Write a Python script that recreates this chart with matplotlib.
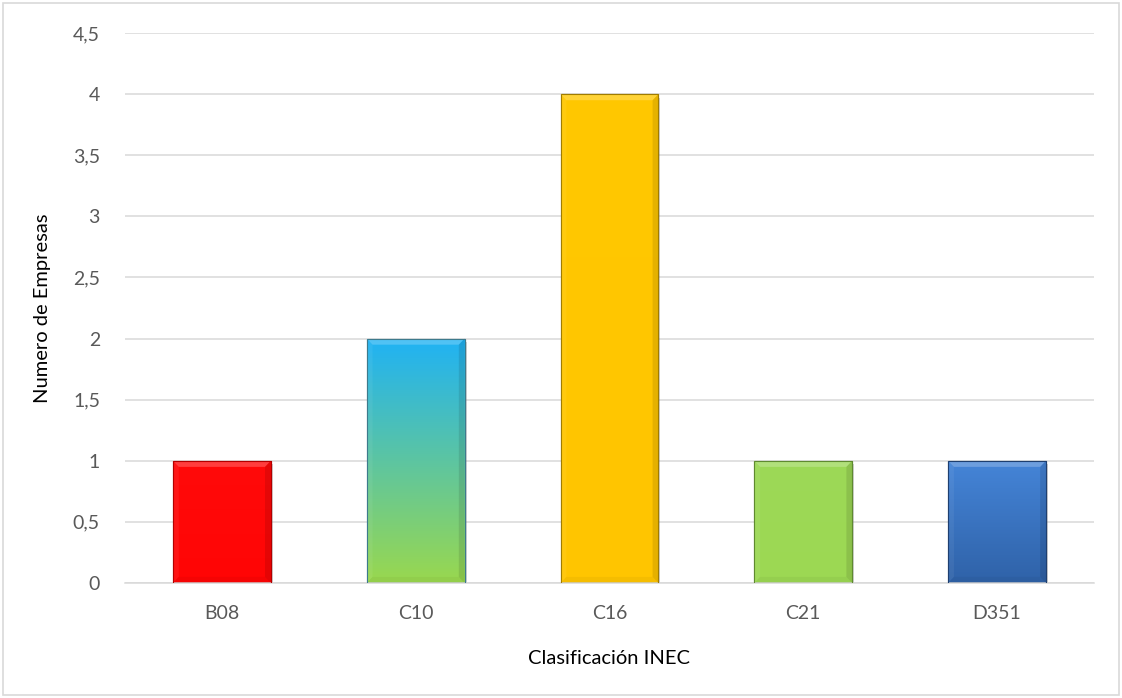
import numpy as np
import matplotlib.pyplot as plt
import matplotlib.patheffects as pe
from matplotlib.colors import LinearSegmentedColormap
from matplotlib.patches import Rectangle, Polygon

# data
categories = ["B08", "C10", "C16", "C21", "D351"]
empresas = [1, 2, 4, 1, 1]
# top colour, bottom colour, edge colour for each bar
top_colors = ["#ff0a0a", "#1fb2f5", "#ffc800", "#9dd957", "#4585d8"]
bottom_colors = ["#ff0505", "#9ad84e", "#ffc500", "#9cd853", "#2f62a8"]
edge_colors = ["#b30000", "#3d7a8c", "#a07c00", "#5f8a30", "#1e3f70"]
y_ticks = [0, 0.5, 1, 1.5, 2, 2.5, 3, 3.5, 4, 4.5]

plt.rcParams['font.family'] = ['Lato', 'DejaVu Sans']

fig = plt.figure(figsize=(11.22, 6.98), dpi=100)
ax = fig.add_axes([0.1114, 0.1648, 0.8636, 0.7879])

x = np.arange(len(categories))
width = 0.505
bars = ax.bar(x, empresas, width, color=top_colors, edgecolor=edge_colors,
              linewidth=0.8, zorder=2)

for b, c_top, c_bot in zip(bars, top_colors, bottom_colors):
    b.set_path_effects([pe.SimplePatchShadow(offset=(1.5, -2.5), shadow_rgbFace='#7f7f7f', alpha=0.35),
                        pe.Normal()])
    x0, w, h = b.get_x(), b.get_width(), b.get_height()
    cmap = LinearSegmentedColormap.from_list("g", [c_bot, c_top])
    grad = np.linspace(0, 1, 256).reshape(-1, 1)
    im = ax.imshow(grad, cmap=cmap, aspect='auto', origin='lower',
                   extent=[x0, x0 + w, 0, h], zorder=2.5)
    im.set_clip_path(b)
    # bevel: light top, darker right and bottom
    dx, dy = 0.03, 0.05
    top = Polygon([[x0, h], [x0 + w, h], [x0 + w - dx, h - dy], [x0 + dx, h - dy]],
                  closed=True, facecolor='white', alpha=0.22, lw=0, zorder=3)
    right = Polygon([[x0 + w, h], [x0 + w, 0], [x0 + w - dx, dy], [x0 + w - dx, h - dy]],
                    closed=True, facecolor='black', alpha=0.1, lw=0, zorder=3)
    bottom = Polygon([[x0, 0], [x0 + w, 0], [x0 + w - dx, dy], [x0 + dx, dy]],
                     closed=True, facecolor='black', alpha=0.04, lw=0, zorder=3)
    left = Polygon([[x0, 0], [x0, h], [x0 + dx, h - dy], [x0 + dx, dy]],
                   closed=True, facecolor='white', alpha=0.06, lw=0, zorder=3)
    for p in (top, right, bottom, left):
        ax.add_patch(p)
    edge = Rectangle((x0, 0), w, h, fill=False, edgecolor=b.get_edgecolor(), lw=0.8, zorder=3.5)
    ax.add_patch(edge)

ax.set_xlim(-0.5, len(categories) - 0.5)
ax.set_ylim(0, 4.5)
ax.set_yticks(y_ticks)
ax.set_yticklabels([f"{v:g}".replace(".", ",") for v in y_ticks])
ax.set_xticks(x)
ax.set_xticklabels(categories)
ax.tick_params(length=0, labelsize=14, labelcolor='#595959', pad=18)
ax.tick_params(axis='x', pad=16)
ax.grid(axis='y', color='#d9d9d9', linewidth=1.1, zorder=0)
ax.set_axisbelow(True)
for s in ['top', 'right', 'left']:
    ax.spines[s].set_visible(False)
ax.spines['bottom'].set_color('#d9d9d9')
ax.spines['bottom'].set_linewidth(1.1)

ax.set_xlabel("Clasificación INEC", fontsize=14.5, color='black', labelpad=20)
ax.set_ylabel("Numero de Empresas", fontsize=14.5, color='black', labelpad=16)

fig.patches.append(Rectangle((0.003, 0.004), 0.994, 0.992, transform=fig.transFigure,
                             fill=False, edgecolor='#d9d9d9', linewidth=1.2))

fig.savefig("out.png", dpi=100)
